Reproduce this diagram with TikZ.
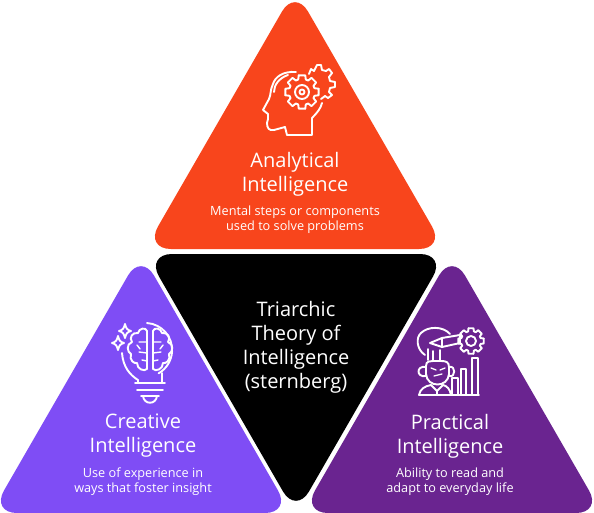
\documentclass[tikz,border=0pt]{standalone}
\usepackage{fontspec}
\setmainfont{Open Sans}
\definecolor{redtri}{HTML}{F8451C}
\definecolor{violettri}{HTML}{7F4DF5}
\definecolor{plumtri}{HTML}{6A2490}
\tikzset{
  tri/.style={rounded corners=26pt,draw=none},
  icon/.style={draw=white,line width=1.9pt,line cap=round,line join=round,fill=none},
  head/.style={text=white,align=center,font=\fontsize{20}{24}\selectfont,inner sep=0pt},
  sub/.style={text=white,align=center,font=\fontsize{12.7}{15}\selectfont,inner sep=0pt},
}
\newcommand{\gearpath}[4]{% x y outer inner (8 teeth)
  \foreach \k in {0,...,7}{
    \path[icon] ({#1+#3*cos(\k*45-11)},{#2+#3*sin(\k*45-11)}) -- ({#1+#3*cos(\k*45+11)},{#2+#3*sin(\k*45+11)})
      -- ({#1+#4*cos(\k*45+17)},{#2+#4*sin(\k*45+17)}) arc[start angle=\k*45+17,end angle=\k*45+28,radius=#4]
      -- ({#1+#3*cos(\k*45+34)},{#2+#3*sin(\k*45+34)});
  }
}
\begin{document}
\begin{tikzpicture}[x=1pt,y=-1pt]
\useasboundingbox (0,0) rectangle (594,513);
\fill[white] (0,0) rectangle (594,513);
\begin{scope}
\clip (0,0) rectangle (594,513);
% triangles
\fill[tri,redtri] (295,-11) -- (445,249) -- (145,249) -- cycle;
\fill[tri,black] (146,254) -- (446,254) -- (296,514) -- cycle;
\fill[tri,violettri] (141,253) -- (291,513) -- (-9,513) -- cycle;
\fill[tri,plumtri] (452,253) -- (602,513) -- (302,513) -- cycle;

% analytical icon: head
\draw[icon] (296,72) .. controls (283,71) and (275,77) .. (273,84)
  .. controls (270,90) and (271,95) .. (269,99) -- (263,110) -- (268,114) -- (268,119) -- (267,123)
  .. controls (267,128) and (269,131) .. (274,130) -- (285,127) -- (287,135) -- (312,135) -- (312,118)
  .. controls (317,113) and (321,108) .. (322,103);
\draw[icon] (288,75) .. controls (279,78) and (274,85) .. (274,92);
\gearpath{302}{92}{17}{13}
\draw[icon] (302,92) circle[radius=7];
\draw[icon] (302,92) circle[radius=2.5];
\draw[icon] (309,74) -- (311,69) -- (314,71) -- (317,65) -- (321,65) -- (322,70) -- (326,71) -- (329,69) -- (332,73) -- (329,77) -- (330,81) -- (335,82) -- (335,87) -- (330,88) -- (329,92) -- (332,95) -- (328,98) -- (325,96) -- (321,99);

% creative icon: bulb
\draw[icon] (147,323) arc[start angle=-86,end angle=60,radius=27];
\draw[icon] (122,353) .. controls (123,367) and (130,375) .. (138,380) -- (138,382);
\draw[icon] (135,383) -- (165,383);
\draw[icon] (137,390) -- (163,390);
\draw[icon] (141,396) -- (159,396);
\draw[icon] (143,396) .. controls (144,405) and (156,405) .. (157,396);
\draw[icon] (162,373) -- (162,382);
% brain
\draw[icon] (147,331) .. controls (146,327) and (139,328) .. (138,333) .. controls (132,332) and (129,338) .. (132,342)
  .. controls (126,344) and (127,352) .. (131,354) .. controls (129,360) and (134,364) .. (137,363)
  .. controls (137,369) and (144,372) .. (147,369) -- cycle;
\draw[icon] (153,331) .. controls (154,327) and (161,328) .. (162,333) .. controls (168,332) and (171,338) .. (168,342)
  .. controls (174,344) and (173,352) .. (169,354) .. controls (171,360) and (166,364) .. (163,363)
  .. controls (163,369) and (156,372) .. (153,369) -- cycle;
\draw[icon,line width=1.4pt] (147,342) -- (139,342) (147,353) -- (139,352) (137,345) -- (140,349) (153,342) -- (161,342) (153,353) -- (161,352) (163,345) -- (160,349) (147,361) -- (142,360) (153,361) -- (158,360);
% stars
\draw[icon] (125,324) .. controls (126,328) and (127,330) .. (131,331) .. controls (127,332) and (126,334) .. (125,338)
  .. controls (124,334) and (123,332) .. (119,331) .. controls (123,330) and (124,328) .. (125,324) -- cycle;
\draw[icon] (118,336) .. controls (119,340) and (120,342) .. (124,343) .. controls (120,344) and (119,346) .. (118,350)
  .. controls (117,346) and (116,344) .. (112,343) .. controls (116,342) and (117,340) .. (118,336) -- cycle;

% practical icon
\draw[icon] (425,355) .. controls (416,349) and (416,337) .. (421,333) .. controls (428,326) and (443,326) .. (450,334);
\draw[icon] (460,335) -- (442,338) -- (430,343) -- (442,347) -- (460,343);
\draw[icon] (442,338) -- (442,347);
\draw[icon] (460,335) -- (460,343);
\draw[icon] (428,349) -- (428,360) (433,351) -- (433,360) (440,350) -- (440,360);
\gearpath{471}{341}{13}{10}
\draw[icon] (471,341) circle[radius=5];
% head and body
\draw[icon] (426,372) -- (426,366) .. controls (426,361) and (430,361) .. (433,361) -- (441,361) .. controls (446,361) and (449,362) .. (449,367) -- (449,374) .. controls (448,388) and (427,388) .. (426,374) -- cycle;
\draw[icon] (426,367) .. controls (416,365) and (416,378) .. (426,376);
\draw[icon] (449,367) .. controls (456,365) and (456,378) .. (449,376);
\draw[icon,line width=1.3pt] (431,368) -- (436,370) (440,370) -- (445,368) (434,376) -- (442,374);
\draw[icon] (419,395) .. controls (420,389) and (425,386) .. (431,385) (451,395) .. controls (450,389) and (447,386) .. (443,385);
\draw[icon] (419,395) -- (479,395);
\draw[icon] (431,385) -- (437,391) -- (443,385) (437,391) -- (437,395);
% bars
\draw[icon] (452,395) -- (452,378) -- (458,378) -- (458,395);
\draw[icon] (461,395) -- (461,369) -- (466,369) -- (466,395);
\draw[icon] (472,395) -- (472,358) -- (478,358) -- (478,395);
\end{scope}

% texts
\node[head] (analytical) at (295,174.5) {Analytical\\Intelligence};
\node[sub] (analyticalsub) at (295,220) {Mental steps or components\\used to solve problems};
\node[head,text=white] (centre) at (296,347) {Triarchic\\Theory of\\Intelligence\\(sternberg)};
\node[head] (creative) at (143,436) {Creative\\Intelligence};
\node[sub] (creativesub) at (143,481.5) {Use of experience in\\ways that foster insight};
\node[head] (practical) at (450,436) {Practical\\Intelligence};
\node[sub] (practicalsub) at (450,481.5) {Ability to read and\\adapt to everyday life};
\end{tikzpicture}
\end{document}
